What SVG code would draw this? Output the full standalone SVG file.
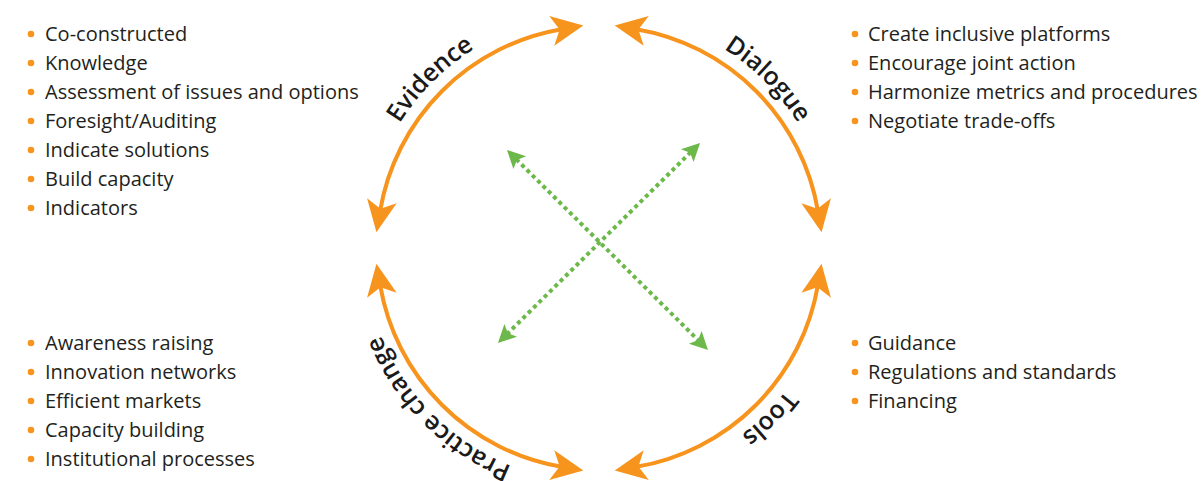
<svg xmlns="http://www.w3.org/2000/svg" width="1202" height="481" viewBox="0 0 1202 481">
<style>
.item{font-family:"Open Sans","Noto Sans",sans-serif;font-size:20px;fill:#231f20}
.bul{fill:#f7941e}
.lab{font-family:"Open Sans","Noto Sans",sans-serif;font-size:25px;font-weight:600;fill:#1a1a1a}
.arc{fill:none;stroke:#f7941e;stroke-width:4;marker-start:url(#oa);marker-end:url(#oa)}
.grn{fill:none;stroke:#6cb84a;stroke-width:4;stroke-dasharray:4 3.5;marker-start:url(#ga);marker-end:url(#ga)}
</style>
<defs>
<marker id="oa" markerUnits="userSpaceOnUse" viewBox="0 -16 34 32" markerWidth="34" markerHeight="32" refX="10" refY="0" orient="auto-start-reverse">
<path d="M0,-15 L32,0 L0,15 L8,0 Z" fill="#f7941e"/>
</marker>
<marker id="ga" markerUnits="userSpaceOnUse" viewBox="0 -10 20 20" markerWidth="20" markerHeight="20" refX="5" refY="0" orient="auto-start-reverse">
<path d="M0,-9 L18,0 L0,9 L4,0 Z" fill="#6cb84a"/>
</marker>
<path id="tq1" d="M834,248 A235,235 0 0 1 599,483"/>
<path id="tq2" d="M599,483 A235,235 0 0 1 364,248"/>
<path id="tq3" d="M364,248 A235,235 0 0 1 599,13"/>
<path id="tq4" d="M599,13 A235,235 0 0 1 834,248"/>
</defs>
<rect width="1202" height="481" fill="#ffffff"/>

<g id="connectors">
<path class="arc" d="M380.17,210.6 A222,222 0 0 1 561.6,29.17"/>
<path class="arc" d="M636.4,29.17 A222,222 0 0 1 817.83,210.6"/>
<path class="arc" d="M817.83,285.4 A222,222 0 0 1 636.4,466.83"/>
<path class="arc" d="M561.6,466.83 A222,222 0 0 1 380.17,285.4"/>
<line class="grn" x1="516.2" y1="159.2" x2="698.8" y2="340.8"/>
<line class="grn" x1="690.8" y1="152.1" x2="507.2" y2="333.9"/>
</g>

<g id="arc-labels">
<text class="lab"><textPath href="#tq3" startOffset="50%" text-anchor="middle">Evidence</textPath></text>
<text class="lab"><textPath href="#tq4" startOffset="50%" text-anchor="middle">Dialogue</textPath></text>
<text class="lab"><textPath href="#tq1" startOffset="50%" text-anchor="middle">Tools</textPath></text>
<text class="lab"><textPath href="#tq2" startOffset="50%" text-anchor="middle">Practice change</textPath></text>
</g>

<g id="evidence-list">
<circle class="bul" cx="31" cy="34" r="3.3"/><text class="item" x="45" y="41">Co-constructed</text>
<circle class="bul" cx="31" cy="63" r="3.3"/><text class="item" x="45" y="70">Knowledge</text>
<circle class="bul" cx="31" cy="92" r="3.3"/><text class="item" x="45" y="99">Assessment of issues and options</text>
<circle class="bul" cx="31" cy="121" r="3.3"/><text class="item" x="45" y="128">Foresight/Auditing</text>
<circle class="bul" cx="31" cy="150" r="3.3"/><text class="item" x="45" y="157">Indicate solutions</text>
<circle class="bul" cx="31" cy="179" r="3.3"/><text class="item" x="45" y="186">Build capacity</text>
<circle class="bul" cx="31" cy="208" r="3.3"/><text class="item" x="45" y="215">Indicators</text>
</g>

<g id="dialogue-list">
<circle class="bul" cx="855" cy="34" r="3.3"/><text class="item" x="868" y="41">Create inclusive platforms</text>
<circle class="bul" cx="855" cy="63" r="3.3"/><text class="item" x="868" y="70">Encourage joint action</text>
<circle class="bul" cx="855" cy="92" r="3.3"/><text class="item" x="868" y="99">Harmonize metrics and procedures</text>
<circle class="bul" cx="855" cy="121" r="3.3"/><text class="item" x="868" y="128">Negotiate trade-offs</text>
</g>

<g id="practice-change-list">
<circle class="bul" cx="31" cy="343" r="3.3"/><text class="item" x="45" y="350">Awareness raising</text>
<circle class="bul" cx="31" cy="372" r="3.3"/><text class="item" x="45" y="379">Innovation networks</text>
<circle class="bul" cx="31" cy="401" r="3.3"/><text class="item" x="45" y="408">Efficient markets</text>
<circle class="bul" cx="31" cy="430" r="3.3"/><text class="item" x="45" y="437">Capacity building</text>
<circle class="bul" cx="31" cy="459" r="3.3"/><text class="item" x="45" y="466">Institutional processes</text>
</g>

<g id="tools-list">
<circle class="bul" cx="855" cy="343" r="3.3"/><text class="item" x="868" y="350">Guidance</text>
<circle class="bul" cx="855" cy="372" r="3.3"/><text class="item" x="868" y="379">Regulations and standards</text>
<circle class="bul" cx="855" cy="401" r="3.3"/><text class="item" x="868" y="408">Financing</text>
</g>
</svg>
